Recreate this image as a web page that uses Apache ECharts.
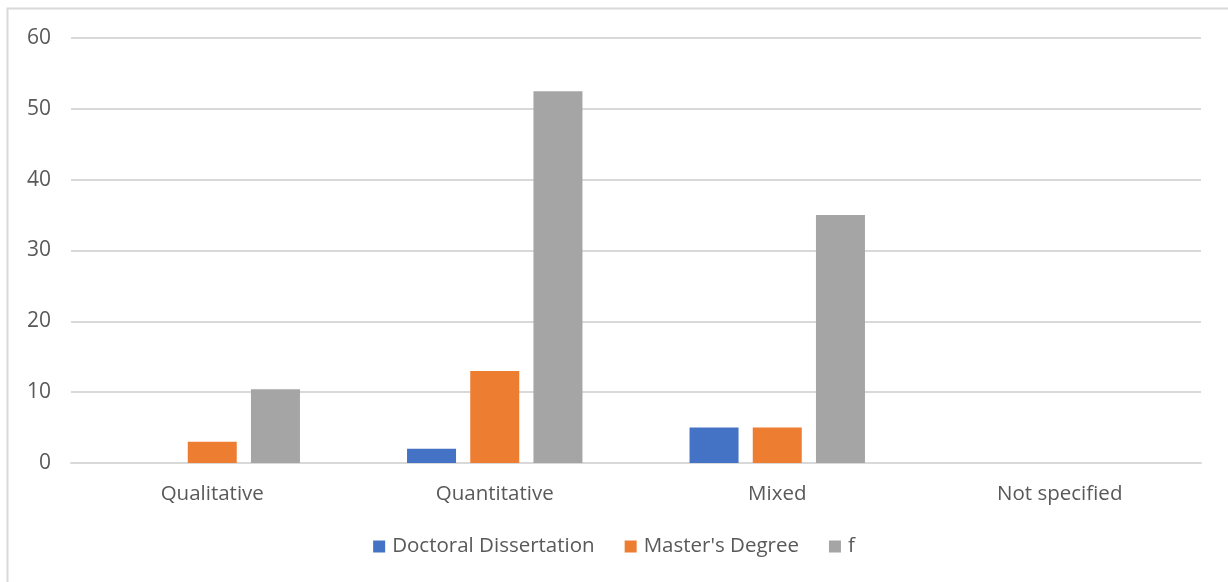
<!DOCTYPE html>
<html><head><meta charset="utf-8">
<script src="https://cdn.jsdelivr.net/npm/echarts@6/dist/echarts.min.js"></script>
<style>html,body{margin:0;padding:0;background:#fff}#c{width:1228px;height:582px}</style>
</head><body><div id="c"></div>
<script>
const categories = ['Qualitative', 'Quantitative', 'Mixed', 'Not specified'];
const seriesNames = ['Doctoral Dissertation', "Master's Degree", 'f'];
const doctoral = [0, 2, 5, 0];
const masters = [3, 13, 5, 0];
const fTotal = [10.4, 52.5, 35, 0];
const colors = ['#4472C4', '#ED7D31', '#A5A5A5'];
const FONT = 'Open Sans';

const chart = echarts.init(document.getElementById('c'));
const mk = (name, data, color) => ({
  name, type: 'bar', data, barWidth: 49, barGap: '29%',
  itemStyle: { color }, emphasis: { disabled: true }
});
chart.setOption({
  animation: false,
  textStyle: { fontFamily: FONT },
  graphic: [{
    type: 'rect', shape: { x: 7.5, y: 8.5, width: 1240, height: 600 },
    style: { fill: 'none', stroke: '#d9d9d9', lineWidth: 2 }, silent: true
  }],
  grid: { left: 71, right: 27, top: 38, bottom: 119, containLabel: false },
  legend: {
    bottom: 20, left: 'center', icon: 'rect', itemWidth: 12, itemHeight: 12, itemGap: 30,
    textStyle: { color: '#595959', fontSize: 20.5, fontFamily: FONT, padding: [0, 0, 0, 2] },
    data: seriesNames
  },
  xAxis: {
    type: 'category', data: categories,
    axisLine: { show: true, lineStyle: { color: '#d9d9d9', width: 2 } },
    axisTick: { show: false },
    axisLabel: { color: '#595959', fontSize: 20.5, fontFamily: FONT, margin: 21 }
  },
  yAxis: {
    type: 'value', min: 0, max: 60, interval: 10,
    axisLine: { show: false }, axisTick: { show: false },
    splitLine: { lineStyle: { color: '#d9d9d9', width: 2 } },
    axisLabel: { color: '#595959', fontSize: 21, fontFamily: FONT, margin: 20 }
  },
  series: [mk(seriesNames[0], doctoral, colors[0]), mk(seriesNames[1], masters, colors[1]), mk(seriesNames[2], fTotal, colors[2])]
});
</script></body></html>
